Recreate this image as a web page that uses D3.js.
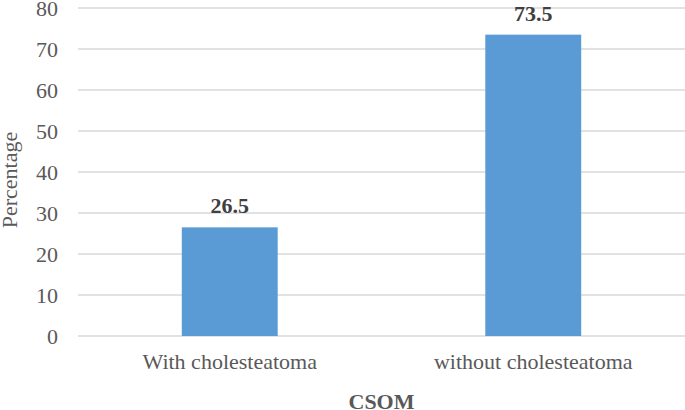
<!DOCTYPE html>
<html>
<head>
<meta charset="utf-8">
<script src="https://cdn.jsdelivr.net/npm/d3@7"></script>
<style>
  body { margin: 0; background: #fff; }
  text { font-family: "Liberation Serif", "Times New Roman", serif; }
</style>
</head>
<body>
<div id="chart"></div>
<script>
const categories = ["With cholesteatoma", "without cholesteatoma"];
const percentages = [26.5, 73.5];
const yTicks = [0, 10, 20, 30, 40, 50, 60, 70, 80];

const width = 685, height = 410;
const margin = { top: 8, right: 0, bottom: 74, left: 78 };
const fontSize = 22;

const svg = d3.select("#chart")
    .append("svg")
    .attr("width", width)
    .attr("height", height);

const x = d3.scaleBand()
    .domain(categories)
    .range([margin.left, width - margin.right])
    .paddingInner(0.684)
    .paddingOuter(0.342);

const y = d3.scaleLinear()
    .domain([0, 80])
    .range([height - margin.bottom, margin.top]);

// Gridlines
svg.append("g")
    .selectAll("line")
    .data(yTicks)
    .join("line")
    .attr("x1", margin.left)
    .attr("x2", width - margin.right)
    .attr("y1", d => y(d))
    .attr("y2", d => y(d))
    .attr("stroke", "#d9d9d9")
    .attr("stroke-width", 1.5);

// Y tick labels
svg.append("g")
    .selectAll("text")
    .data(yTicks)
    .join("text")
    .attr("x", 58)
    .attr("y", d => y(d))
    .attr("dy", "0.35em")
    .attr("text-anchor", "end")
    .attr("fill", "#595959")
    .attr("font-size", fontSize)
    .text(d => d);

// Bars
svg.append("g")
    .selectAll("rect")
    .data(percentages)
    .join("rect")
    .attr("x", (d, i) => x(categories[i]))
    .attr("width", x.bandwidth())
    .attr("y", d => y(d))
    .attr("height", d => y(0) - y(d))
    .attr("fill", "#5b9bd5");

// Value labels
svg.append("g")
    .selectAll("text")
    .data(percentages)
    .join("text")
    .attr("x", (d, i) => x(categories[i]) + x.bandwidth() / 2)
    .attr("y", d => y(d) - 14)
    .attr("text-anchor", "middle")
    .attr("fill", "#404040")
    .attr("font-size", fontSize)
    .attr("font-weight", "bold")
    .text(d => d);

// X category labels
svg.append("g")
    .selectAll("text")
    .data(categories)
    .join("text")
    .attr("x", d => x(d) + x.bandwidth() / 2)
    .attr("y", 369)
    .attr("text-anchor", "middle")
    .attr("fill", "#595959")
    .attr("font-size", fontSize)
    .text(d => d);

// Axis titles
svg.append("text")
    .attr("x", (margin.left + width) / 2)
    .attr("y", 409)
    .attr("text-anchor", "middle")
    .attr("fill", "#595959")
    .attr("font-size", fontSize)
    .attr("font-weight", "bold")
    .text("CSOM");

svg.append("text")
    .attr("transform", `translate(17, ${(margin.top + height - margin.bottom) / 2 + 8}) rotate(-90)`)
    .attr("text-anchor", "middle")
    .attr("fill", "#595959")
    .attr("font-size", fontSize)
    .text("Percentage");
</script>
</body>
</html>
